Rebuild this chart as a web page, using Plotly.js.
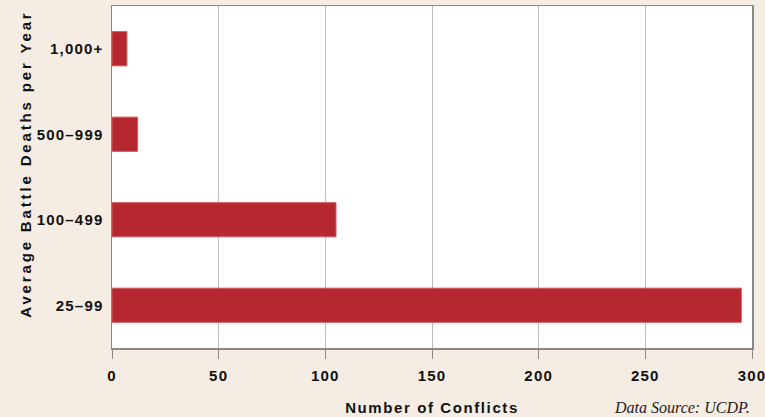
<!DOCTYPE html>
<html><head><meta charset="utf-8">
<script src="https://cdn.plot.ly/plotly-3.0.1.min.js"></script>
<style>html,body{margin:0;padding:0;background:#f5ece4;}
.xtitle{letter-spacing:1.6px;}
.annotation-text.ytitle-ann{letter-spacing:2.85px;}
.xtick text,.ytick text{letter-spacing:1.2px;}
</style>
</head><body>
<div id="chart" style="width:765px;height:417px;"></div>
<script>
const categories = ["25–99", "100–499", "500–999", "1,000+"];
const conflicts = [295, 105, 12, 7];
const xTicks = [0, 50, 100, 150, 200, 250, 300];
const yTitle = "Average Battle Deaths per Year";
const xTitle = "Number of Conflicts";
const sourceNote = "Data Source: UCDP.";

const trace = {
  type: "bar",
  orientation: "h",
  y: categories,
  x: conflicts,
  width: 0.4,
  marker: {color: "#b5282f", line: {color: "#cf5a60", width: 1}},
  hoverinfo: "x+y"
};

const layout = {
  width: 765, height: 417,
  margin: {l: 112, r: 13, t: 6, b: 69},
  paper_bgcolor: "#f5ece4",
  plot_bgcolor: "#ffffff",
  showlegend: false,
  font: {family: "Liberation Sans, Arial, sans-serif", color: "#111"},
  xaxis: {
    range: [0, 300],
    tickvals: xTicks,
    ticktext: xTicks.map(String),
    tickfont: {size: 15, weight: "bold", color: "#111"},
    ticks: "outside", ticklen: 9, tickcolor: "#888", tickwidth: 1,
    ticklabelstandoff: 4, ticklabeloverflow: "allow",
    showgrid: true, gridcolor: "#bdbdbd", gridwidth: 1,
    showline: true, linecolor: "#888", linewidth: 1.5, mirror: true,
    zeroline: false,
    title: {text: xTitle, font: {size: 15, weight: "bold", color: "#111"}, standoff: 20}
  },
  yaxis: {
    categoryorder: "array", categoryarray: categories,
    tickfont: {size: 15, weight: "bold", color: "#111"},
    ticks: "", ticklabelstandoff: 4,
    showgrid: false,
    showline: true, linecolor: "#888", linewidth: 1.5, mirror: true,
    zeroline: false
  },
  annotations: [{
    text: sourceNote,
    xref: "paper", yref: "paper", x: 1, y: -0.175,
    xanchor: "right", yanchor: "middle", showarrow: false,
    font: {family: "Liberation Serif, serif", size: 16, style: "italic", color: "#222"}
  }, {
    text: yTitle, textangle: -90,
    xref: "paper", yref: "paper", x: (25 - 112) / 640, y: (348 - 164) / 342,
    xanchor: "center", yanchor: "middle", showarrow: false,
    font: {size: 15, weight: "bold", color: "#111"}
  }]
};

Plotly.newPlot("chart", [trace], layout, {displayModeBar: false, staticPlot: true}).then(() => {
  const anns = document.querySelectorAll(".annotation-text");
  if (anns.length > 1) anns[1].classList.add("ytitle-ann");
});
</script>
</body></html>
